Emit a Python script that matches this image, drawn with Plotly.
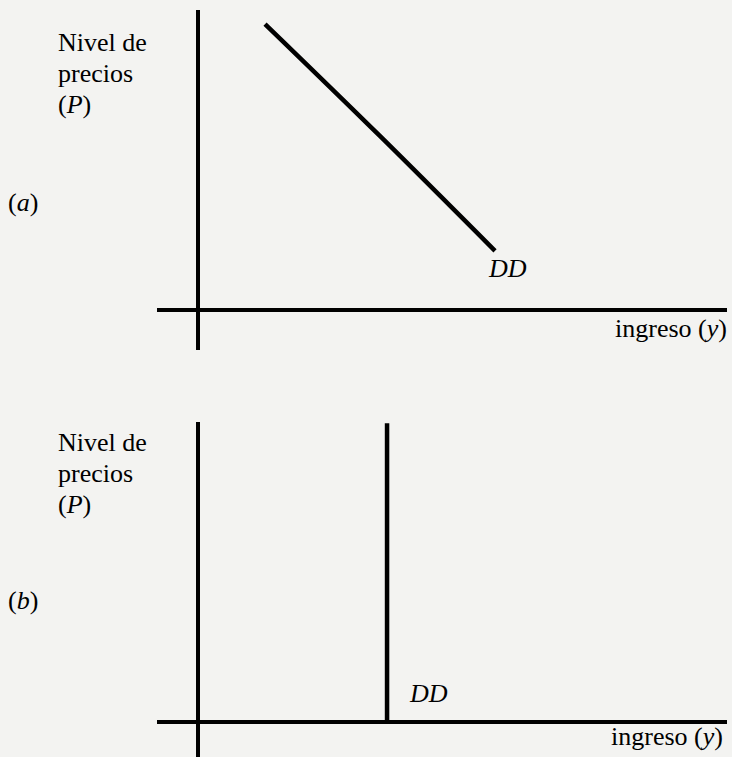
import plotly.graph_objects as go

# --- data (arbitrary income / price units) ---
dd_a_income = [1.175, 3.19, 5.21]      # panel (a): downward sloping DD
dd_a_price = [8.41, 5.12, 1.74]
dd_b_income = [3.316, 3.316]           # panel (b): vertical DD
dd_b_price = [0.0, 8.79]

x_range = [-0.72, 9.28]
ya_range = [-1.176, 8.824]
yb_range = [-1.029, 8.824]

y_title_lines = ["Nivel de", "precios", "(<i>P</i>)"]
x_title = "ingreso (<i>y</i>)"
curve_label = "<i>DD</i>"
panel_labels = ["(<i>a</i>)", "(<i>b</i>)"]

W, H = 732, 757
BG = "#f3f3f1"
FONT = "Liberation Serif, DejaVu Serif, serif"
FS = 26

fig = go.Figure()
fig.add_trace(go.Scatter(x=dd_a_income, y=dd_a_price, mode="lines",
                         line=dict(color="black", width=4.5, shape="spline"),
                         xaxis="x", yaxis="y", showlegend=False, hoverinfo="skip"))
fig.add_trace(go.Scatter(x=dd_b_income, y=dd_b_price, mode="lines",
                         line=dict(color="black", width=4.5),
                         xaxis="x2", yaxis="y2", showlegend=False, hoverinfo="skip"))

ax_common = dict(showgrid=False, showticklabels=False, ticks="", showline=False,
                 zeroline=True, zerolinecolor="black", zerolinewidth=4,
                 fixedrange=True)
xdom = [157 / W, 727 / W]
fig.update_layout(
    width=W, height=H,
    margin=dict(l=0, r=0, t=0, b=0),
    paper_bgcolor=BG, plot_bgcolor=BG,
    font=dict(family=FONT, size=FS, color="black"),
    xaxis=dict(domain=xdom, range=x_range, anchor="y", **ax_common),
    yaxis=dict(domain=[1 - 350 / H, 1 - 10 / H], range=ya_range, anchor="x", **ax_common),
    xaxis2=dict(domain=xdom, range=x_range, anchor="y2", **ax_common),
    yaxis2=dict(domain=[0, 1 - 422 / H], range=yb_range, anchor="x2", **ax_common),
)

ann = []
# y-axis titles, one line each
for centers in ([43, 74, 104], [442, 473, 504]):
    for line, yc in zip(y_title_lines, centers):
        ann.append(dict(text=line, xref="paper", yref="paper", x=56 / W, y=1 - yc / H,
                        xanchor="left", yanchor="middle", align="left", showarrow=False))
# panel labels
for lab, yc in zip(panel_labels, [203, 600]):
    ann.append(dict(text=lab, xref="paper", yref="paper", x=6 / W, y=1 - yc / H,
                    xanchor="left", yanchor="middle", showarrow=False))
# x-axis titles
ann.append(dict(text=x_title, xref="x domain", yref="y", x=1, y=0, xshift=2, yshift=-18,
                xanchor="right", yanchor="middle", showarrow=False))
ann.append(dict(text=x_title, xref="x2 domain", yref="y2", x=1, y=0, xshift=-2, yshift=-14,
                xanchor="right", yanchor="middle", showarrow=False))
# DD labels
ann.append(dict(text=curve_label, xref="x", yref="y", x=dd_a_income[-1], y=dd_a_price[-1],
                xshift=12, yshift=-18, xanchor="center", yanchor="middle", showarrow=False))
ann.append(dict(text=curve_label, xref="x2", yref="y2", x=dd_b_income[0], y=dd_b_price[0],
                xshift=41, yshift=29, xanchor="center", yanchor="middle", showarrow=False))
fig.update_layout(annotations=ann)

fig.write_html(
    "out.html",
    config={"displayModeBar": False},
    post_script="document.body.style.margin='0';document.body.style.background='%s';"
                "document.documentElement.style.background='%s';" % (BG, BG),
)
